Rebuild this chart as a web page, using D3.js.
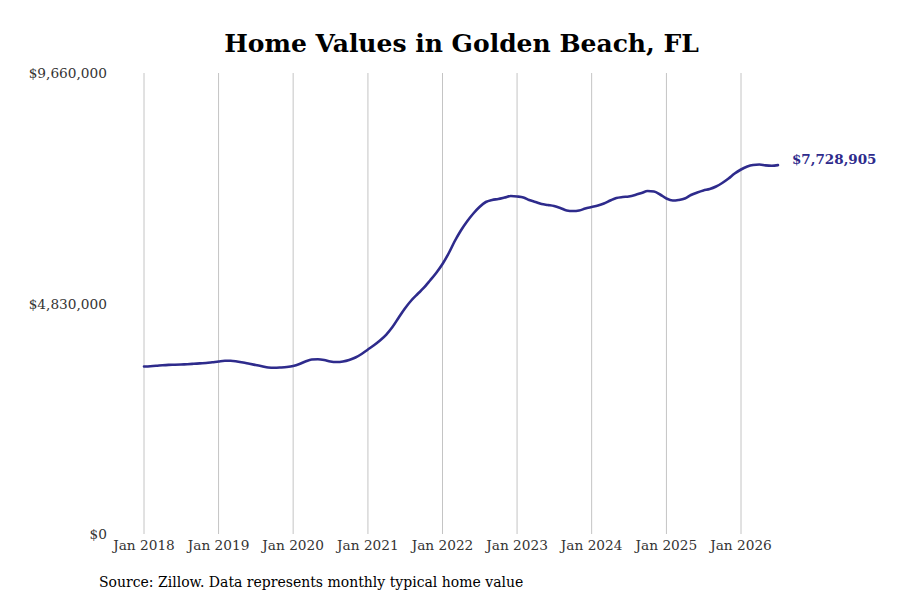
<!DOCTYPE html>
<html>
<head>
<meta charset="utf-8">
<script src="https://cdn.jsdelivr.net/npm/d3@7"></script>
<style>
  body { margin: 0; background: #fff; }
  svg text { font-family: "DejaVu Serif", serif; }
</style>
</head>
<body>
<svg width="900" height="600"></svg>
<script>
// monthly typical home value, Jan 2018 .. Jul 2026
const startMonth = '2018-01';
const values = [
  3510000, 3516000, 3524000, 3535000, 3543000, 3547000, 3552000, 3558000, 3566000, 3575000, 3583000, 3598000,
  3615000, 3629000, 3629000, 3615000, 3594000, 3566000, 3541000, 3516000, 3489000, 3483000, 3489000, 3499000,
  3520000, 3562000, 3615000, 3656000, 3661000, 3646000, 3615000, 3604000, 3615000, 3646000, 3698000, 3772000,
  3866000, 3960000, 4055000, 4180000, 4337000, 4537000, 4725000, 4893000, 5029000, 5155000, 5312000, 5469000,
  5658000, 5888000, 6129000, 6360000, 6548000, 6716000, 6852000, 6957000, 6999000, 7020000, 7051000, 7082000,
  7072000, 7051000, 6999000, 6957000, 6915000, 6894000, 6873000, 6831000, 6779000, 6768000, 6779000, 6821000,
  6852000, 6883000, 6925000, 6988000, 7041000, 7061000, 7072000, 7103000, 7145000, 7187000, 7177000, 7114000,
  7030000, 6988000, 6999000, 7030000, 7103000, 7156000, 7198000, 7229000, 7282000, 7355000, 7449000, 7554000,
  7638000, 7701000, 7732000, 7742000, 7725000, 7718000, 7728905
];
const yTicks = [0, 4830000, 9660000];
const xTickYears = [2018, 2019, 2020, 2021, 2022, 2023, 2024, 2025, 2026];

const parse = d3.timeParse('%Y-%m');
const t0 = parse(startMonth);
const data = values.map((v, i) => ({ date: d3.timeMonth.offset(t0, i), value: v }));

const svg = d3.select('svg');
const mLeft = 144, mRight = 741, mTop = 73, mBottom = 534;

const x = d3.scaleTime()
  .domain([new Date(2018, 0, 1), new Date(2026, 0, 1)])
  .range([mLeft, mRight]);
const y = d3.scaleLinear().domain([0, 9660000]).range([mBottom, mTop]);

// title
svg.append('text')
  .attr('x', 461.5).attr('y', 52)
  .attr('text-anchor', 'middle')
  .attr('font-size', 25).attr('font-weight', 'bold')
  .attr('fill', '#000')
  .text('Home Values in Golden Beach, FL');

// vertical gridlines
svg.append('g').selectAll('line')
  .data(xTickYears).enter()
  .append('line')
  .attr('x1', d => x(new Date(d, 0, 1))).attr('x2', d => x(new Date(d, 0, 1)))
  .attr('y1', mTop).attr('y2', mBottom)
  .attr('stroke', '#c4c4c4').attr('stroke-width', 1);

// x labels
svg.append('g').selectAll('text')
  .data(xTickYears).enter()
  .append('text')
  .attr('x', d => x(new Date(d, 0, 1)))
  .attr('y', 550)
  .attr('text-anchor', 'middle')
  .attr('font-size', 13.7).attr('fill', '#333')
  .text(d => d3.timeFormat('%b %Y')(new Date(d, 0, 1)));

// y labels
const fmt = d3.format('$,');
svg.append('g').selectAll('text')
  .data(yTicks).enter()
  .append('text')
  .attr('x', 107)
  .attr('y', d => y(d) + 5)
  .attr('text-anchor', 'end')
  .attr('font-size', 13.7).attr('fill', '#333')
  .text(d => fmt(d));

// line
const line = d3.line()
  .x(d => x(d.date))
  .y(d => y(d.value))
  .curve(d3.curveMonotoneX);

svg.append('path')
  .datum(data)
  .attr('d', line)
  .attr('fill', 'none')
  .attr('stroke', '#2e2b8c')
  .attr('stroke-width', 2.6)
  .attr('stroke-linejoin', 'round')
  .attr('stroke-linecap', 'round');

// end label
const last = data[data.length - 1];
svg.append('text')
  .attr('x', x(last.date) + 14)
  .attr('y', y(last.value) - 1)
  .attr('font-size', 13.5).attr('font-weight', 'bold')
  .attr('fill', '#2e2b8c')
  .text(fmt(last.value));

// source
svg.append('text')
  .attr('x', 99).attr('y', 587)
  .attr('font-size', 14).attr('fill', '#000')
  .text('Source: Zillow. Data represents monthly typical home value');
</script>
</body>
</html>
